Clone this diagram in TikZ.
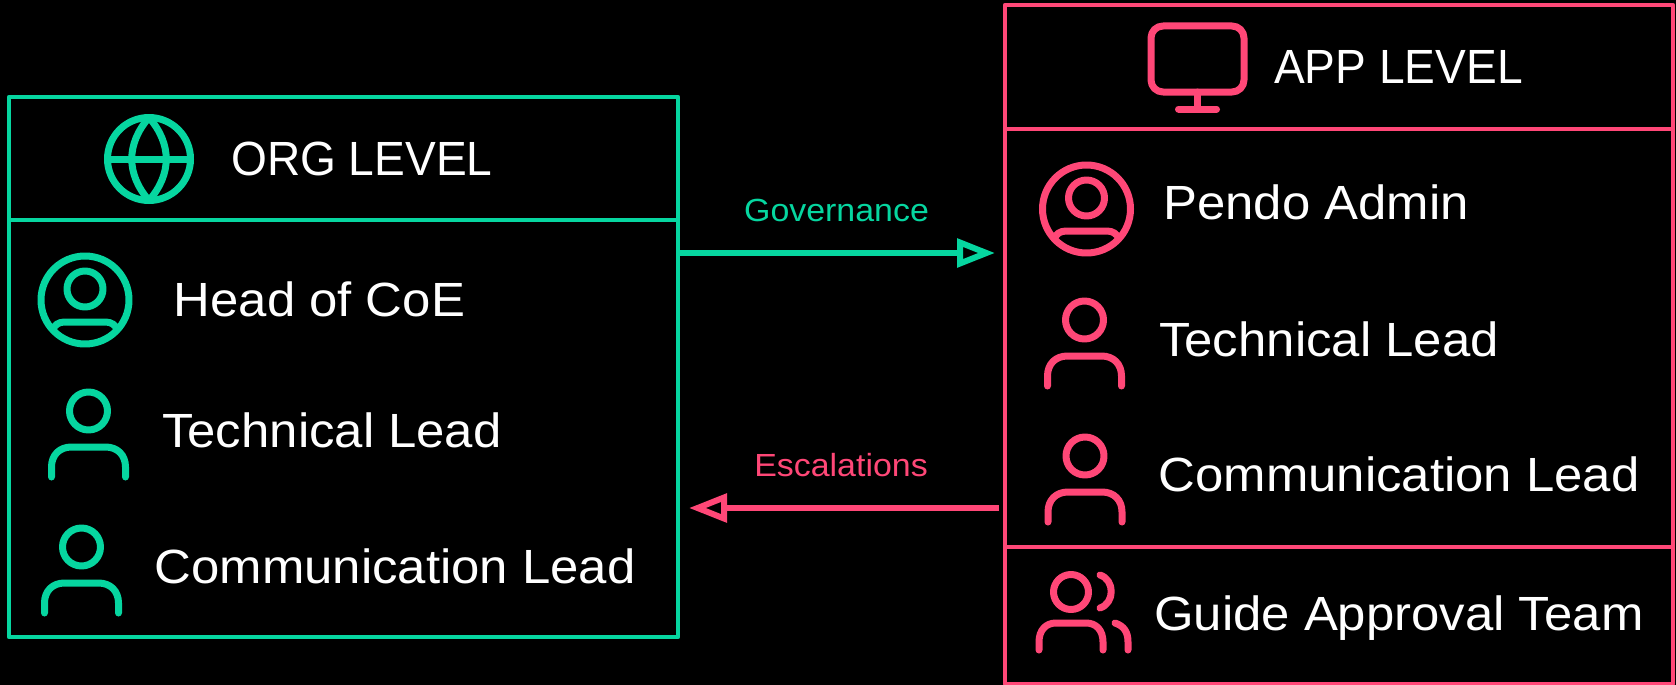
\documentclass[tikz,border=0pt]{standalone}
\usepackage{fontspec}
\setmainfont[FakeStretch=1.06]{Liberation Sans}
\newfontfamily\capsfont[FakeStretch=0.96]{Liberation Sans}
\usetikzlibrary{arrows.meta}

\definecolor{orgcol}{HTML}{06D6A0}
\definecolor{appcol}{HTML}{FF4777}

\tikzset{
  iconline/.style={line width=7pt,line cap=round,line join=round},
  levelbox/.style={draw,line width=4.5pt,line join=round,inner sep=0pt,minimum width=#1},
  itemtext/.style={anchor=base west,inner sep=0pt,text=white,font=\fontsize{48}{48}\selectfont},
  titletext/.style={itemtext,font=\capsfont\fontsize{48}{48}\selectfont},
  flowtext/.style={anchor=base,inner sep=0pt,font=\fontsize{32}{32}\selectfont},
  flowarrow/.style={line width=6pt},
  % person without a ring, origin at the centre of the head
  personicon/.pic={
    \draw[iconline] (0,0) circle (19);
    \draw[iconline] (-37,66) -- (-37,56) .. controls (-37,44) and (-29,36) .. (-17,36)
      -- (17,36) .. controls (29,36) and (37,44) .. (37,56) -- (37,66);
  },
  % person in a ring, origin at the centre of the ring
  ringicon/.pic={
    \draw[iconline] (0,0) circle (44);
    \draw[iconline] (0,-11) circle (18);
    \draw[iconline] (-31,27) .. controls (-27,22) and (-23,22) .. (-17,22) -- (17,22)
      .. controls (23,22) and (27,22) .. (31,27);
  },
  globeicon/.pic={
    \draw[iconline] (0,0) circle (41.5);
    \draw[iconline] (-41.5,0) -- (41.5,0);
    \draw[iconline] (0,-41.5) .. controls (-23,-15) and (-23,15) .. (0,41.5)
      .. controls (23,15) and (23,-15) .. (0,-41.5);
  },
  monitoricon/.pic={
    \draw[iconline,rounded corners=12pt] (-46.5,-33) rectangle (46.5,33);
    \draw[iconline] (0,33) -- (0,50);
    \draw[iconline] (-19,50) -- (19,50);
  },
  groupicon/.pic={
    \draw[iconline] (0,0) circle (17.5);
    \draw[iconline] (-32,58) -- (-32,50) .. controls (-32,38) and (-25,31) .. (-15,31)
      -- (15,31) .. controls (25,31) and (32,38) .. (32,50) -- (32,58);
    \draw[iconline] (29,-17) .. controls (44,-12) and (44,11) .. (29,16);
    \draw[iconline] (44,31) .. controls (53,34) and (57,40) .. (57,50) -- (57,58);
  },
}

\begin{document}
\begin{tikzpicture}[x=1pt,y=-1pt]

% the black page
\fill[black] (0,0) rectangle (1676,685);
\useasboundingbox (0,0) rectangle (1676,685);

% the org boxes
\node[levelbox=669pt,color=orgcol,minimum height=123pt] (orghead) at (343.5,158.5) {};
\node[levelbox=669pt,color=orgcol,minimum height=417pt] (orgbody) at (343.5,428.5) {};

% the app boxes
\node[levelbox=668pt,color=appcol,minimum height=124pt] (apphead) at (1339,67) {};
\node[levelbox=668pt,color=appcol,minimum height=418pt] (appbody) at (1339,338) {};
\node[levelbox=668pt,color=appcol,minimum height=137pt] (appteam) at (1339,615.5) {};

% the org icons
\pic[color=orgcol] at (149,159) {globeicon};
\pic[color=orgcol] at (85,300) {ringicon};
\pic[color=orgcol] at (88.5,411) {personicon};
\pic[color=orgcol] at (81.5,547) {personicon};

% the app icons
\pic[color=appcol] at (1197.5,59) {monitoricon};
\pic[color=appcol] at (1086.5,209) {ringicon};
\pic[color=appcol] at (1084.5,320) {personicon};
\pic[color=appcol] at (1085,456) {personicon};
\pic[color=appcol] at (1071,592) {groupicon};

% the org labels
\node[titletext] (orgtitle) at (231,175) {ORG LEVEL};
\node[itemtext] (orgboss) at (173.5,316) {Head of CoE};
\node[itemtext] (orgtech) at (162,447) {Technical Lead};
\node[itemtext] (orgcomm) at (154.5,583) {Communication Lead};

% the app labels
\node[titletext] (apptitle) at (1274,83) {APP LEVEL};
\node[itemtext] (appadmin) at (1163,219) {Pendo Admin};
\node[itemtext] (apptech) at (1159,356) {Technical Lead};
\node[itemtext] (appcomm) at (1158.5,491) {Communication Lead};
\node[itemtext] (appguide) at (1154,630) {Guide Approval Team};

% the arrows between the boxes
\coordinate (govend) at (995,253);
\coordinate (escstart) at (999,508);
\coordinate (escend) at (689,508);
\draw[flowarrow,orgcol,-{Triangle[length=38pt,width=28pt,open,fill=black]}] (orgbody.east |- govend) -- (govend);
\draw[flowarrow,appcol,-{Triangle[length=38pt,width=28pt,open,fill=black]}] (escstart) -- (escend);

% labels for the arrows
\node[flowtext,text=orgcol] (govlabel) at (836.5,221) {Governance};
\node[flowtext,text=appcol] (esclabel) at (841,476) {Escalations};

\end{tikzpicture}
\end{document}
